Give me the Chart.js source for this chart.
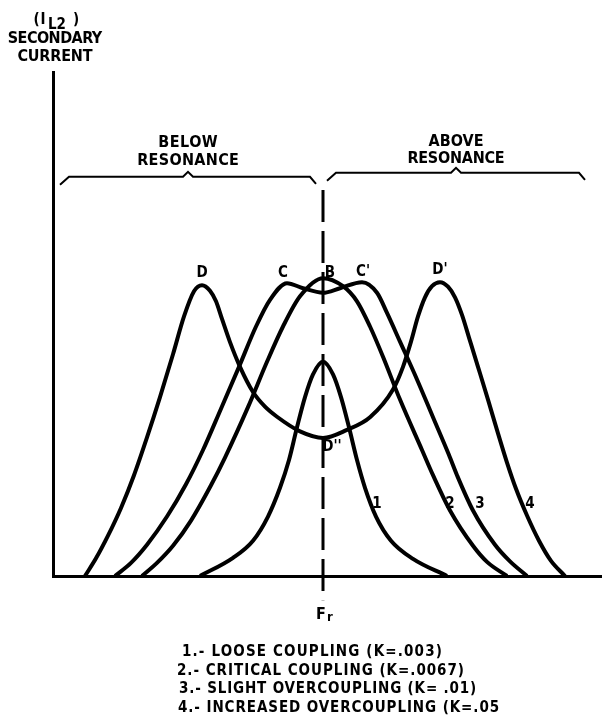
<!DOCTYPE html>
<html>
<head>
<meta charset="utf-8">
<script src="https://cdn.jsdelivr.net/npm/chart.js@4"></script>
<style>
  html, body { margin: 0; padding: 0; background: #fff; }
  #wrap { width: 602px; height: 721px; position: relative; }
</style>
</head>
<body>
<div id="wrap"><canvas id="couplingChart"></canvas></div>
<script>
// frequency offset from resonance (Fr = 0) and secondary current (arbitrary units)
const freqLoose = [-12.3, -9.0, -7.0, -5.5, -4.3, -3.4, -2.6, -1.8, -1.0, 0, 1.0, 1.8, 2.6, 3.4, 4.2, 5.3, 6.8, 9.0, 12.4];
const currentLoose = [0, 3.6, 7.0, 11.8, 17.5, 23.0, 29.5, 35.5, 40.0, 42.5, 40.0, 35.5, 29.5, 23.0, 17.5, 11.8, 7.0, 3.4, 0];

const freqCritical = [-18.1, -16.6, -15.0, -13.2, -11.2, -9.8, -7.5, -5.6, -4.0, -2.3, 0, 2.0, 3.4, 4.7, 6.0, 7.7, 9.9, 11.0, 12.7, 15.0, 16.4, 18.4];
const currentCritical = [0, 2.6, 6.0, 11.0, 18.0, 23.5, 33.5, 42.5, 49.5, 55.5, 59.1, 57.5, 54.5, 49.5, 43.5, 35.0, 25.0, 20.0, 13.0, 6.0, 2.8, 0];

const freqSlight = [-20.8, -19.2, -17.6, -15.6, -13.7, -12.0, -10.2, -8.4, -6.7, -5.3, -3.6, -2.0, 0, 1.7, 3.9, 5.4, 6.4, 7.7, 9.4, 11.0, 12.6, 13.4, 15.0, 17.2, 18.7, 20.4];
const currentSlight = [0, 2.6, 6.2, 11.8, 18.2, 25.0, 33.2, 41.5, 49.5, 54.8, 58.1, 57.1, 56.2, 57.1, 58.3, 56.2, 52.2, 46.5, 39.0, 31.5, 24.0, 20.0, 13.0, 6.2, 2.9, 0];

const freqIncreased = [-23.8, -22.7, -21.5, -20.2, -18.9, -17.6, -16.3, -15.0, -13.9, -12.9, -12.1, -11.3, -10.7, -10.1, -9.3, -8.3, -7.0, -5.8, -4.6, -2.3, 0, 2.4, 4.7, 7.0, 8.0, 8.8, 9.5, 10.2, 10.9, 11.7, 12.5, 13.2, 13.9, 14.6, 15.5, 16.5, 17.5, 18.4, 19.3, 20.4, 21.6, 22.8, 24.2];
const currentIncreased = [0, 3.5, 8.0, 13.5, 20.0, 27.5, 35.5, 44.0, 51.5, 56.5, 57.7, 56.6, 54.5, 51.0, 46.4, 41.5, 36.5, 33.6, 31.6, 28.7, 27.4, 29.0, 31.5, 37.0, 41.5, 46.5, 51.5, 55.3, 57.5, 58.3, 57.4, 55.3, 51.8, 47.3, 41.5, 35.0, 28.3, 22.5, 17.3, 12.0, 7.0, 3.0, 0];

const resonanceFreq = 0;
const curveNumbers = ['1', '2', '3', '4'];
const peakNames = ['D', 'C', 'B', "C'", "D'", "D''"];
const legendLines = [
    '1.- LOOSE COUPLING (K=.003)',
    '2.- CRITICAL COUPLING (K=.0067)',
    '3.- SLIGHT OVERCOUPLING (K= .01)',
    '4.- INCREASED OVERCOUPLING (K=.05'
];

const FONT = '"DejaVu Sans Condensed", "DejaVu Sans", Arial, sans-serif';

function toPoints(xs, ys) {
    return xs.map((x, i) => ({ x: x, y: ys[i] }));
}

function curve(xs, ys) {
    return {
        data: toPoints(xs, ys),
        borderColor: '#000',
        borderWidth: 4,
        pointRadius: 0,
        fill: false,
        clip: false,
        cubicInterpolationMode: 'monotone'
    };
}

// brackets, labels, titles drawn on top of the chart
const annotations = {
    id: 'annotations',
    afterDraw(chart) {
        const ctx = chart.ctx;
        const x = chart.scales.x;
        const y = chart.scales.y;
        const px = v => x.getPixelForValue(v);
        const py = v => y.getPixelForValue(v);

        function text(str, cx, cy, size, spacing, align) {
            ctx.font = 'bold ' + size + 'px ' + FONT;
            ctx.letterSpacing = (spacing || 0) + 'px';
            ctx.textAlign = align || 'center';
            ctx.fillText(str, cx, cy);
        }
        // stretch a line of text to a given width
        function fitText(str, cx, cy, size, width, align) {
            ctx.font = 'bold ' + size + 'px ' + FONT;
            ctx.letterSpacing = '0px';
            const w = ctx.measureText(str).width;
            const sp = Math.max(-1, (width - w) / str.length);
            const shift = (align || 'center') === 'center' ? sp / 2 : 0;
            text(str, cx + shift, cy, size, sp, align);
        }

        ctx.save();
        ctx.fillStyle = '#000';
        ctx.strokeStyle = '#000';
        ctx.textBaseline = 'middle';

        // braces over the two halves
        function brace(from, to, level) {
            const x0 = px(from), x1 = px(to), yl = py(level);
            const mid = (x0 + x1) / 2;
            ctx.beginPath();
            ctx.moveTo(x0, yl + 8);
            ctx.lineTo(x0 + 9, yl);
            ctx.lineTo(mid - 5, yl);
            ctx.lineTo(mid, yl - 5);
            ctx.lineTo(mid + 5, yl);
            ctx.lineTo(x1 - 6, yl);
            ctx.lineTo(x1, yl + 7);
            ctx.lineWidth = 2;
            ctx.stroke();
            return { mid: mid, y: yl };
        }
        const below = brace(-26.3, -0.7, 79.2);
        const above = brace(0.4, 26.2, 80.0);
        fitText('BELOW', below.mid, below.y - 34, 16, 60);
        fitText('RESONANCE', below.mid, below.y - 16, 16, 102);
        fitText('ABOVE', above.mid, above.y - 31, 16, 55);
        fitText('RESONANCE', above.mid, above.y - 14, 16, 97);

        // peak names
        const peakPos = [[-12.1, 60.1], [-4.0, 60.1], [0.7, 60.1], [4.0, 60.3], [11.7, 60.7], [0.9, 25.6]];
        peakNames.forEach((n, i) => text(n, px(peakPos[i][0]), py(peakPos[i][1]), 15, 0));

        // curve numbers
        const numPos = [5.4, 12.7, 15.7, 20.7];
        curveNumbers.forEach((n, i) => text(n, px(numPos[i]), py(14.3), 15, 0));

        // Fr below the axis
        const fx = px(resonanceFreq);
        text('F', fx - 2, py(-7.7), 16, 0);
        text('r', fx + 7, py(-7.7) + 3, 13, 0);

        // y-axis heading
        text('(I', 40, 20, 15, 1);
        text('L2', 57, 25, 15, 0);
        text(')', 76, 20, 15, 0);
        fitText('SECONDARY', 55, 39, 16, 94);
        fitText('CURRENT', 55, 57, 16, 75);

        // key
        const keyX = [182, 177, 179, 178];
        const keyY = [652, 671, 689, 708];
        const keyW = [261, 288, 298, 322];
        legendLines.forEach((line, i) => fitText(line, keyX[i], keyY[i], 15, keyW[i], 'left'));
        ctx.restore();
    }
};

new Chart(document.getElementById('couplingChart').getContext('2d'), {
    type: 'line',
    data: {
        datasets: [
            curve(freqLoose, currentLoose),
            curve(freqCritical, currentCritical),
            curve(freqSlight, currentSlight),
            curve(freqIncreased, currentIncreased),
            {
                data: [{ x: resonanceFreq, y: 76.6 }, { x: resonanceFreq, y: -4.8 }],
                borderColor: '#000',
                borderWidth: 3,
                borderDash: [32, 9],
                pointRadius: 0,
                clip: false
            }
        ]
    },
    options: {
        responsive: true,
        maintainAspectRatio: false,
        animation: false,
        events: [],
        layout: { padding: { left: 53, right: 0, top: 72, bottom: 145 } },
        plugins: {
            legend: { display: false },
            title: { display: false },
            tooltip: { enabled: false }
        },
        scales: {
            x: {
                type: 'linear',
                min: -27,
                max: 27.9,
                ticks: { display: false },
                grid: { display: false, drawTicks: false },
                border: { color: '#000', width: 3 }
            },
            y: {
                min: 0,
                max: 100,
                ticks: { display: false },
                grid: { display: false, drawTicks: false },
                border: { color: '#000', width: 3 }
            }
        }
    },
    plugins: [annotations]
});
</script>
</body>
</html>
